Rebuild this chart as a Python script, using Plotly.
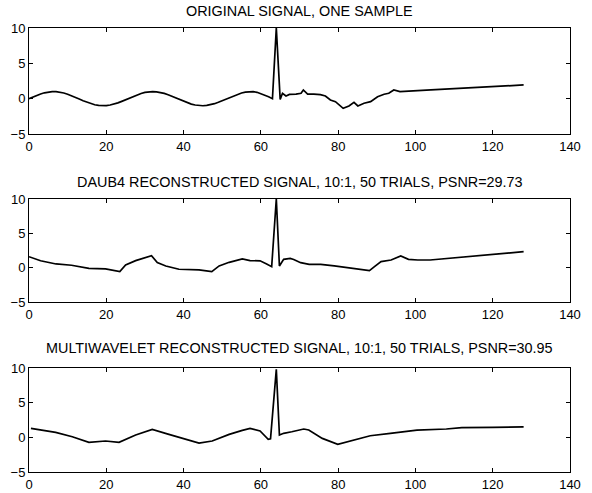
import plotly.graph_objects as go

# ---------------- data ----------------
orig_x = (list(range(0, 64)) +
          [64, 65, 65.6, 66.5, 67.4, 69.1, 70.4, 71, 72.1, 73.7, 75.4, 76.7,
           78, 79.3, 80.2, 81.3, 82.8, 84.1, 85.1, 86.7, 88.4, 90.2, 91.9,
           93.1, 94.4, 95.2, 96, 104, 112, 120, 128])
orig_y = [0.0, 0.24, 0.47, 0.67, 0.83, 0.94, 1.0, 0.99, 0.92, 0.8,
          0.63, 0.43, 0.2, -0.05, -0.29, -0.51, -0.71, -0.86, -0.96, -1.0,
          -0.98, -0.9, -0.77, -0.59, -0.38, -0.15, 0.1, 0.34, 0.56, 0.74,
          0.88, 0.97, 1.0, 0.97, 0.88, 0.74, 0.56, 0.34, 0.1, -0.15,
          -0.38, -0.59, -0.77, -0.9, -0.98, -1.0, -0.96, -0.86, -0.71, -0.51,
          -0.29, -0.05, 0.2, 0.43, 0.63, 0.8, 0.92, 0.99, 1.0, 0.9,
          0.72, 0.52, 0.28, 0.0,
          10.0, -0.1, 0.76, 0.38, 0.6, 0.65, 0.76, 1.23, 0.65, 0.65, 0.57, 0.38,
          -0.18, -0.42, -0.8, -1.36, -1.03, -0.51, -1.03, -0.65, -0.42, 0.28, 0.62,
          0.76, 1.23, 1.13, 1.0, 1.24, 1.48, 1.71, 1.94]

daub_x = [0, 3, 7, 11, 15.5, 19.8, 23.5, 25, 27.6, 31.7, 33.2, 35.4,
          38.8, 41.4, 44, 47.3, 49.2, 51.8, 55.2, 57.2, 59.8, 61.5, 62.8,
          64, 64.8, 65.9, 67.6, 68.5, 70.3, 72.5, 75.5, 79, 83.3, 88.1,
          89.4, 91.1, 93.7, 96.2, 98.2, 100.6, 103.8, 112, 120, 128]
daub_y = [1.6, 1.0, 0.54, 0.35, -0.09, -0.19, -0.58, 0.39, 1.02, 1.75,
          0.73, 0.25, -0.23, -0.23, -0.33, -0.58, 0.25, 0.78, 1.27, 1.02,
          1.0, 0.54, 0.15, 10.0, 0.25, 1.22, 1.36, 1.2, 0.73, 0.49, 0.49,
          0.25, -0.04, -0.43, 0.15, 0.88, 1.12, 1.7, 1.22, 1.12, 1.12,
          1.5, 1.9, 2.33]

multi_x = [0.5, 6.9, 11.2, 15.5, 19.8, 23.3, 27.6, 31.9, 36.2, 40.5, 44,
           47.4, 51.8, 55.2, 57.2, 59.8, 61.1, 61.9, 62.5, 64, 64.8, 65.9,
           68, 71.1, 72.4, 75.9, 79.9, 83.2, 88.3, 93.5, 100.4, 108, 112,
           120, 128]
multi_y = [1.3, 0.72, 0.09, -0.72, -0.53, -0.72, 0.33, 1.15, 0.43, -0.29,
           -0.82, -0.53, 0.43, 1.01, 1.3, 0.91, 0.09, -0.29, -0.2, 9.8,
           0.33, 0.58, 0.81, 1.2, 1.06, -0.15, -1.0, -0.53, 0.23, 0.58,
           1.05, 1.2, 1.4, 1.45, 1.5]

titles = ["ORIGINAL SIGNAL, ONE SAMPLE",
          "DAUB4 RECONSTRUCTED SIGNAL, 10:1, 50 TRIALS, PSNR=29.73",
          "MULTIWAVELET RECONSTRUCTED SIGNAL, 10:1, 50 TRIALS, PSNR=30.95"]
x_ticks = [0, 20, 40, 60, 80, 100, 120, 140]
y_ticks = [-5, 0, 5, 10]

# ---------------- layout ----------------
W, H = 592, 493
x_left, x_right = 29, 570
panels = [(28, 134, 11), (199, 302, 182), (368, 472, 348)]  # top, bottom, title y (px)

fig = go.Figure()
series = [(orig_x, orig_y), (daub_x, daub_y), (multi_x, multi_y)]
font = dict(family="Liberation Sans, Arial, sans-serif", color="black")

for i, ((xs, ys), (top, bot, ty)) in enumerate(zip(series, panels)):
    n = "" if i == 0 else str(i + 1)
    fig.add_trace(go.Scatter(x=xs, y=ys, mode="lines",
                             line=dict(color="black", width=1.7),
                             xaxis="x" + n, yaxis="y" + n, showlegend=False))
    common = dict(showgrid=False, zeroline=False, showline=True, mirror="ticks",
                  linecolor="black", linewidth=1, ticks="inside", ticklen=4,
                  tickcolor="black", automargin=False,
                  tickfont=dict(size=13, **font))
    fig.layout["xaxis" + n] = dict(domain=[x_left / W, x_right / W], range=[0, 140],
                                  tickvals=x_ticks, anchor="y" + n, **common)
    fig.layout["yaxis" + n] = dict(domain=[1 - bot / H, 1 - top / H], range=[-5, 10],
                                  tickvals=y_ticks, anchor="x" + n, **common)
    fig.add_annotation(text=titles[i], x=(x_left + x_right) / 2 / W, y=1 - ty / H,
                       xref="paper", yref="paper", showarrow=False,
                       xanchor="center", yanchor="middle",
                       font=dict(size=14.4, **font))

fig.update_layout(width=W, height=H,
                  margin=dict(l=0, r=0, t=0, b=0, pad=0, autoexpand=False),
                  paper_bgcolor="white", plot_bgcolor="white")
fig.write_html("out.html", config={"displayModeBar": False},
               post_script="document.body.style.margin='0';document.body.style.overflow='hidden';")
